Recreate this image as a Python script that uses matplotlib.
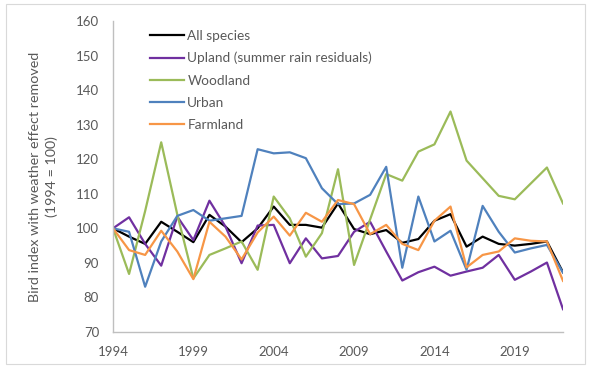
import matplotlib
matplotlib.use("Agg")
import matplotlib.pyplot as plt
from matplotlib.patches import Rectangle

plt.rcParams['font.family'] = ['Lato', 'DejaVu Sans']

years = list(range(1994, 2023))
all_species = [100, 97.6, 95.5, 101.9, 99, 96, 103.9, 100.5, 96, 100,
               106.3, 101, 101, 100.2, 107.2, 99.8, 98.3, 99.5, 95.8, 96.9,
               102.2, 104.1, 94.7, 97.6, 95.5, 95, 95.5, 96.2, 87.3]
upland = [100, 103.2, 95.5, 89.2, 103.4, 96.6, 108, 100.5, 89.9, 100.8,
          101, 89.9, 97.1, 91.3, 92, 99, 101.9, 93.3, 84.9, 87.3,
          88.9, 86.3, 87.5, 88.6, 92.3, 85.1, 87.5, 90.1, 76.6]
woodland = [100, 86.8, 105, 124.9, 104, 85.5, 92.3, 94.2, 96.2, 88,
            109.2, 102.9, 91.8, 98.6, 117.1, 89.4, 102.6, 115.7, 113.8, 122.2,
            124.3, 133.8, 119.6, 114.5, 109.4, 108.4, 113, 117.6, 107.2]
urban = [100, 99, 83.1, 96.2, 103.6, 105.3, 102.2, 102.9, 103.6, 122.9,
         121.7, 122, 120.3, 111.6, 107, 107.2, 109.7, 117.8, 88.6, 109.2,
         96.2, 99.3, 88, 106.5, 99, 93, 94.2, 95.2, 87.2]
farmland = [100, 93.7, 92.3, 99.3, 93.3, 85.3, 101.9, 97.6, 91, 98.8,
            103.4, 97.9, 104.5, 101.9, 108.2, 107, 98.3, 101, 95.5, 93.7,
            102.2, 106.3, 88.7, 92.3, 93.3, 97.1, 96.4, 96.2, 84.8]

series = [
    ("All species", all_species, "#000000"),
    ("Upland (summer rain residuals)", upland, "#7030A0"),
    ("Woodland", woodland, "#9BBB59"),
    ("Urban", urban, "#4F81BD"),
    ("Farmland", farmland, "#F79646"),
]
xticks = [1994, 1999, 2004, 2009, 2014, 2019]
yticks = [70, 80, 90, 100, 110, 120, 130, 140, 150, 160]

W, H = 594, 369
fig = plt.figure(figsize=(W / 100, H / 100), dpi=100)
ax = fig.add_axes([113 / W, (H - 332) / H, 450 / W, 311 / H])
fig.patches.append(Rectangle((6 / W, (H - 364) / H), 579 / W, 360 / H,
                             transform=fig.transFigure, fill=False,
                             edgecolor="#D9D9D9", linewidth=0.8))

for name, vals, col in series:
    ax.plot(years, vals, color=col, linewidth=1.6, label=name)

ax.set_xlim(1994, 2022)
ax.set_ylim(70, 160)
ax.set_xticks(xticks)
ax.set_yticks(yticks)
tc = "#595959"
ax.tick_params(axis="both", length=0, colors=tc, labelsize=9.5)
ax.tick_params(axis="y", pad=10)
ax.tick_params(axis="x", pad=10)
for s in ["top", "right"]:
    ax.spines[s].set_visible(False)
for s in ["left", "bottom"]:
    ax.spines[s].set_color("#BFBFBF")
    ax.spines[s].set_linewidth(1.0)

ax.set_ylabel("Bird index with weather effect removed\n(1994 = 100)",
              color=tc, fontsize=10.3, labelpad=13, linespacing=1.4)

leg = ax.legend(loc="upper left", bbox_to_anchor=(0.07, 0.99), frameon=False,
                fontsize=9.8, handlelength=2.5, handletextpad=0.25,
                labelspacing=0.75, borderaxespad=0)
for t in leg.get_texts():
    t.set_color(tc)

fig.savefig("out.png", dpi=100)
